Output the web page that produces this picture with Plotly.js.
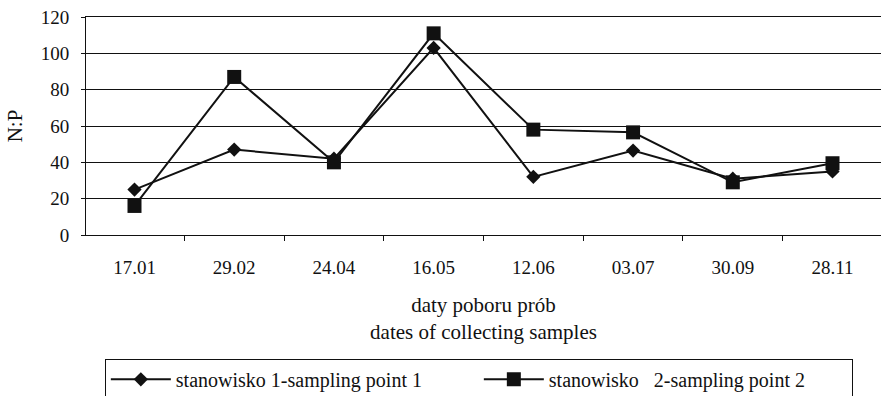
<!DOCTYPE html>
<html>
<head>
<meta charset="utf-8">
<script src="https://cdn.plot.ly/plotly-3.0.1.min.js"></script>
<style>html,body{margin:0;padding:0;background:#fff;}#chart{width:881px;height:396px;}</style>
</head>
<body>
<div id="chart"></div>
<script>
const dates = ["17.01", "29.02", "24.04", "16.05", "12.06", "03.07", "30.09", "28.11"];
const point1 = [25, 47, 42, 103, 32, 46.5, 31, 35];
const point2 = [16, 87, 40, 111, 58, 56.5, 29, 39.5];
const name1 = "stanowisko 1-sampling point 1";
const name2 = "stanowisko\u00a0\u00a0 2-sampling point 2";
const yTicks = [0, 20, 40, 60, 80, 100, 120];

const font = "Times New Roman, Liberation Serif, Tinos, DejaVu Serif, serif";

const traces = [
  {x: dates, y: point1, name: name1, type: "scatter", mode: "lines+markers",
   line: {color: "#111", width: 2}, marker: {symbol: "diamond", size: 11, color: "#111"}},
  {x: dates, y: point2, name: name2, type: "scatter", mode: "lines+markers",
   line: {color: "#111", width: 2}, marker: {symbol: "square", size: 14, color: "#111"}}
];

const layout = {
  width: 881, height: 396,
  margin: {l: 86, r: 0, t: 17, b: 161, autoexpand: false},
  paper_bgcolor: "#fff", plot_bgcolor: "#fff",
  font: {family: font, color: "#111", size: 19},
  showlegend: true,
  xaxis: {
    type: "category", categoryarray: dates,
    tickson: "boundaries", ticks: "outside", ticklen: 5, tickcolor: "#111",
    showline: true, linecolor: "#111", linewidth: 1, mirror: true,
    showgrid: false, zeroline: false,
    tickfont: {family: font, size: 19, color: "#111"},
    ticklabelstandoff: 15,
    title: {text: "daty poboru prób<br>dates of collecting samples", font: {family: font, size: 21, color: "#111"}, standoff: 20}
  },
  yaxis: {
    range: [0, 120], tickvals: yTicks, ticktext: yTicks.map(String),
    ticks: "outside", ticklen: 4, tickcolor: "#111",
    showline: true, linecolor: "#111", linewidth: 1,
    showgrid: true, gridcolor: "#111", gridwidth: 1, zeroline: false,
    tickfont: {family: font, size: 19, color: "#111"},
    ticklabelstandoff: 8,
    title: {text: "N:P", font: {family: font, size: 21, color: "#111"}, standoff: 12}
  },
  legend: {
    orientation: "h", xref: "container", yref: "container",
    x: 0.119, xanchor: "left", y: 0.094, yanchor: "top",
    bordercolor: "#111", borderwidth: 1, bgcolor: "#fff",
    font: {family: font, size: 20, color: "#111"},
    entrywidth: 298, itemwidth: 60, tracegroupgap: 0
  }
};

Plotly.newPlot("chart", traces, layout, {displayModeBar: false, staticPlot: true});
</script>
</body>
</html>
